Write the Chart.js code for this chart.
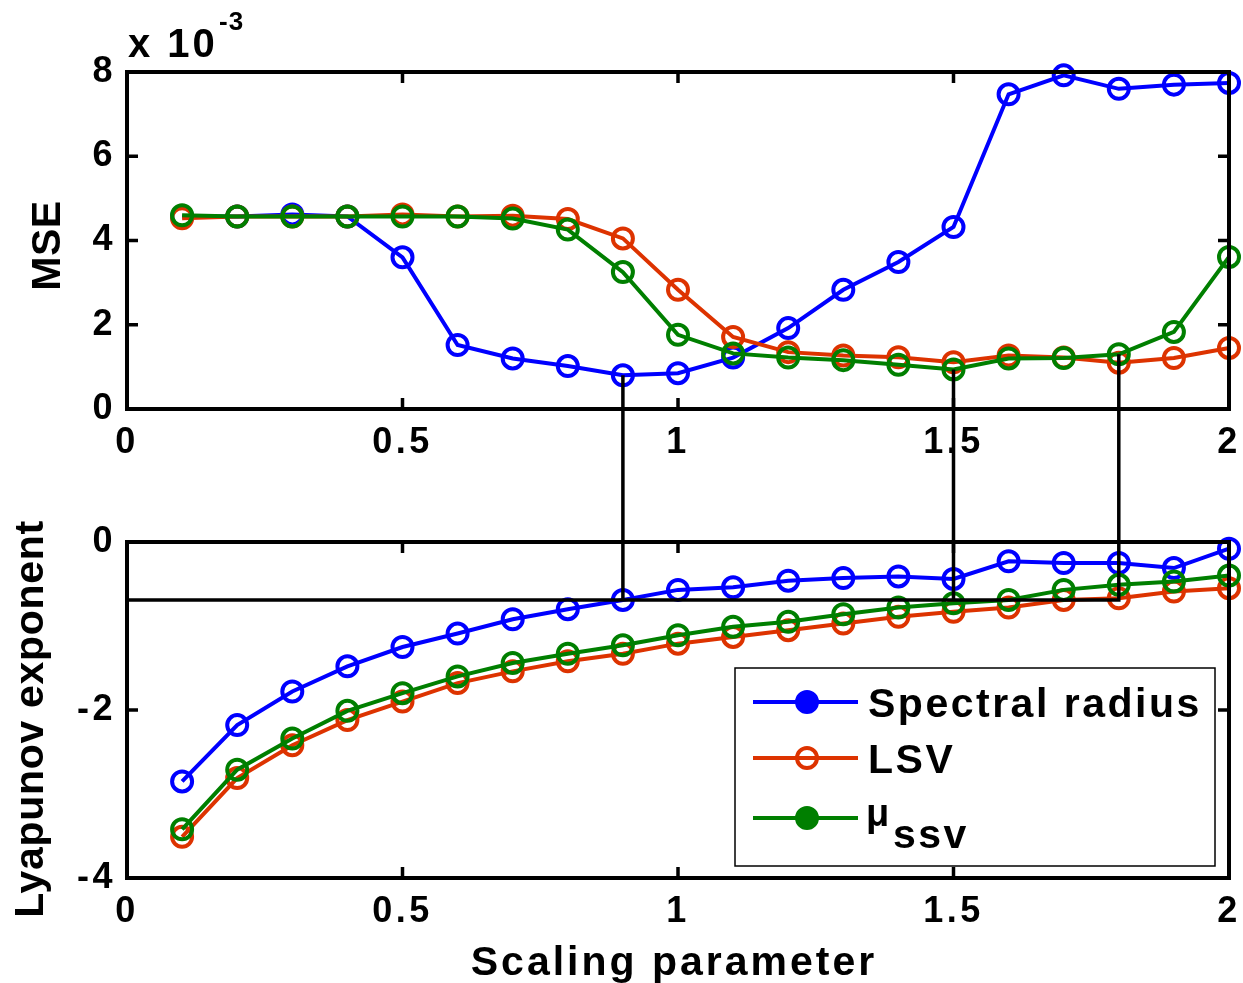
<!DOCTYPE html>
<html><head><meta charset="utf-8">
<script src="https://cdn.jsdelivr.net/npm/chart.js@4"></script>
<style>
html,body{margin:0;padding:0;background:#fff;}
#wrap{position:relative;width:1243px;height:983px;overflow:hidden;}
.box{position:absolute;left:0;width:1243px;}
</style></head><body>
<div id="wrap">
<div class="box" style="top:0;height:480px"><canvas id="c1" width="1243" height="480"></canvas></div>
<div class="box" style="top:480px;height:503px"><canvas id="c2" width="1243" height="503"></canvas></div>
</div>
<script>
// ---- data ----
const scaling = [0.1,0.2,0.3,0.4,0.5,0.6,0.7,0.8,0.9,1.0,1.1,1.2,1.3,1.4,1.5,1.6,1.7,1.8,1.9,2.0];
// MSE values in units of 1e-3
const mseSpectral = [4.57,4.57,4.62,4.57,3.60,1.52,1.20,1.02,0.80,0.85,1.22,1.92,2.83,3.49,4.32,7.47,7.92,7.60,7.70,7.74];
const mseLSV      = [4.53,4.57,4.57,4.57,4.62,4.57,4.59,4.51,4.05,2.83,1.71,1.35,1.27,1.23,1.11,1.27,1.22,1.10,1.21,1.45];
const mseMu       = [4.60,4.57,4.57,4.57,4.57,4.57,4.52,4.26,3.25,1.76,1.32,1.22,1.16,1.05,0.94,1.20,1.21,1.30,1.83,3.61];
const lyapSpectral = [-2.85,-2.18,-1.78,-1.48,-1.25,-1.09,-0.92,-0.80,-0.69,-0.57,-0.54,-0.46,-0.43,-0.41,-0.44,-0.23,-0.25,-0.25,-0.31,-0.08];
const lyapLSV      = [-3.51,-2.81,-2.42,-2.12,-1.90,-1.68,-1.54,-1.42,-1.33,-1.21,-1.13,-1.05,-0.97,-0.89,-0.83,-0.78,-0.69,-0.67,-0.59,-0.55];
const lyapMu       = [-3.42,-2.71,-2.34,-2.01,-1.80,-1.60,-1.44,-1.33,-1.23,-1.11,-1.01,-0.95,-0.86,-0.78,-0.73,-0.69,-0.57,-0.51,-0.47,-0.40];
const seriesNames = ['Spectral radius','LSV','\u03bc'];
const seriesSub = ['','','ssv'];
const seriesColors = ['#0000FF','#DD3300','#007F00'];
const xTicks = [0,0.5,1,1.5,2];
const xTickLabels = ['0','0.5','1','1.5','2'];
const mseTicks = [0,2,4,6,8];
const mseTickLabels = ['0','2','4','6','8'];
const lyapTicks = [-4,-2,0];
const lyapTickLabels = ['-4','-2','0'];
const xTitle = 'Scaling parameter';
const mseTitle = 'MSE';
const lyapTitle = 'Lyapunov exponent';
const connectorX = [0.9,1.5,1.8];
const connectorStartMSE = [mseSpectral[8], mseMu[14], mseMu[17]];
const connectorLevel = lyapSpectral[8];

const FONT = "'Liberation Sans', Arial, Helvetica, sans-serif";
Chart.defaults.font.family = FONT;
Chart.defaults.font.weight = 'bold';
Chart.defaults.color = '#000';

function ds(label, data, color, order){
  return {label, data: scaling.map((x,i)=>({x, y:data[i]})), borderColor: color, backgroundColor: color,
    borderWidth: 4, pointRadius: 10, pointHoverRadius: 10, pointBorderWidth: 4,
    pointBackgroundColor: 'rgba(0,0,0,0)', pointBorderColor: color, tension: 0, clip: false, order};
}

function drawFrame(chart, xt, yt){
  const {ctx, chartArea:a, scales:{x,y}} = chart;
  ctx.save();
  ctx.letterSpacing = '0px';
  ctx.strokeStyle = '#000';
  ctx.lineWidth = 3.5; ctx.lineCap = 'butt';
  const L = 11;
  ctx.beginPath();
  xt.forEach(v=>{const p=x.getPixelForValue(v); ctx.moveTo(p,a.bottom); ctx.lineTo(p,a.bottom-L); ctx.moveTo(p,a.top); ctx.lineTo(p,a.top+L);});
  yt.forEach(v=>{const p=y.getPixelForValue(v); ctx.moveTo(a.left,p); ctx.lineTo(a.left+L,p); ctx.moveTo(a.right,p); ctx.lineTo(a.right-L,p);});
  ctx.stroke();
  ctx.lineWidth = 4; ctx.lineJoin = 'miter';
  ctx.strokeRect(a.left, a.top, a.right-a.left, a.bottom-a.top);
  ctx.restore();
}

function drawText(ctx, text, x, y, size, spacing, rotate, align){
  ctx.save();
  ctx.fillStyle = '#000';
  ctx.font = 'bold ' + size + 'px ' + FONT;
  ctx.letterSpacing = spacing + 'px';
  ctx.textAlign = align || 'left';
  ctx.textBaseline = 'alphabetic';
  ctx.translate(x, y);
  if (rotate) ctx.rotate(-Math.PI/2);
  ctx.fillText(text, 0, 0);
  ctx.restore();
}
function drawTitleY(ctx, text, baseX, centerY, spacing){
  drawText(ctx, text, baseX, centerY, 41, spacing, true, 'center');
}

const spacingPlugin = { id:'spacing', beforeDraw(chart){ chart.ctx.letterSpacing = '3.5px'; } };

function xScale(h){
  return { type:'linear', min:0, max:2, position:'bottom',
    afterBuildTicks(s){ s.ticks = xTicks.map(v=>({value:v})); },
    afterFit(s){ s.height = h; s.paddingLeft = 0; s.paddingRight = 0; },
    grid:{display:false}, border:{display:false},
    ticks:{ font:{size:36, weight:'bold'}, padding:4, maxRotation:0, autoSkip:false, callback:(v,i)=>xTickLabels[i] } };
}
function yScale(min, max, ticks, labels){
  return { type:'linear', min, max,
    afterBuildTicks(s){ s.ticks = ticks.map(v=>({value:v})); },
    afterFit(s){ s.width = 127; s.paddingTop = 0; s.paddingBottom = 0; },
    grid:{display:false}, border:{display:false},
    ticks:{ font:{size:36, weight:'bold'}, padding:3, callback:(v,i)=>labels[i] } };
}

// ---- top chart ----
new Chart(document.getElementById('c1'), {
  type:'line',
  data:{ datasets:[ ds(seriesNames[0], mseSpectral, seriesColors[0], 3), ds(seriesNames[1], mseLSV, seriesColors[1], 2), ds('\u03bcssv', mseMu, seriesColors[2], 1) ] },
  options:{
    responsive:false, animation:false, events:[],
    layout:{ padding:{ top:72, right:13, left:0, bottom:0 } },
    plugins:{ legend:{display:false}, tooltip:{enabled:false} },
    scales:{ x: xScale(71), y: yScale(0, 8, mseTicks, mseTickLabels) }
  },
  plugins:[ spacingPlugin, { id:'topDeco', afterDraw(chart){
    drawFrame(chart, xTicks, mseTicks);
    const {ctx, chartArea:a, scales:{x,y}} = chart;
    ctx.save();
    ctx.letterSpacing = '0px';
    ctx.strokeStyle = '#000'; ctx.lineWidth = 3.5;
    ctx.beginPath();
    connectorX.forEach((cx,i)=>{ const px = x.getPixelForValue(cx); ctx.moveTo(px, y.getPixelForValue(connectorStartMSE[i])); ctx.lineTo(px, chart.height+2); });
    ctx.stroke();
    ctx.restore();
    drawTitleY(ctx, mseTitle, 60, (a.top+a.bottom)/2 + 5, 0.5);
    drawText(ctx, 'x 10', 128, 57, 40, 3, false, 'left');
    drawText(ctx, '-3', 219, 30, 26, 1, false, 'left');
  } } ]
});

// ---- bottom chart ----
new Chart(document.getElementById('c2'), {
  type:'line',
  data:{ datasets:[ ds(seriesNames[0], lyapSpectral, seriesColors[0], 3), ds(seriesNames[1], lyapLSV, seriesColors[1], 2), ds('\u03bcssv', lyapMu, seriesColors[2], 1) ] },
  options:{
    responsive:false, animation:false, events:[],
    layout:{ padding:{ top:62, right:13, left:0, bottom:0 } },
    plugins:{ legend:{display:false}, tooltip:{enabled:false} },
    scales:{ x: xScale(105), y: yScale(-4, 0, lyapTicks, lyapTickLabels) }
  },
  plugins:[ spacingPlugin, { id:'bottomDeco', afterDraw(chart){
    drawFrame(chart, xTicks, lyapTicks);
    const {ctx, chartArea:a, scales:{x,y}} = chart;
    ctx.save();
    ctx.letterSpacing = '0px';
    ctx.strokeStyle = '#000'; ctx.lineWidth = 3.5;
    const py = y.getPixelForValue(connectorLevel);
    ctx.beginPath();
    connectorX.forEach(cx=>{ const px = x.getPixelForValue(cx); ctx.moveTo(px, -2); ctx.lineTo(px, py); });
    ctx.moveTo(a.left, py); ctx.lineTo(x.getPixelForValue(connectorX[connectorX.length-1]) + 1.75, py);
    ctx.stroke();
    // legend
    const lx = 735, ly = 188, lw = 480, lh = 198;
    ctx.fillStyle = '#fff'; ctx.fillRect(lx, ly, lw, lh);
    ctx.lineWidth = 1.5; ctx.strokeRect(lx, ly, lw, lh);
    const rows = [222, 278, 338];
    rows.forEach((ry, i)=>{
      const c = seriesColors[i];
      ctx.strokeStyle = c; ctx.lineWidth = 4;
      ctx.beginPath(); ctx.moveTo(753, ry); ctx.lineTo(858, ry); ctx.stroke();
      ctx.lineWidth = 4;
      ctx.beginPath(); ctx.arc(807, ry, 10, 0, Math.PI*2);
      if (i !== 1) { ctx.fillStyle = c; ctx.fill(); }
      ctx.stroke();
      if (i < 2) {
        drawText(ctx, seriesNames[i], 868, ry + 15, 41, 2.5, false, 'left');
      } else {
        drawText(ctx, seriesNames[i], 866, ry + 8, 38, 0, false, 'left');
        drawText(ctx, seriesSub[i], 893, ry + 30, 41, 2.5, false, 'left');
      }
    });
    ctx.restore();
    drawText(ctx, xTitle, (a.left+a.right)/2 - 4, 495, 41, 3, false, 'center');
    drawTitleY(ctx, lyapTitle, 43, (a.top+a.bottom)/2 + 9, 0.7);
  } } ]
});
</script>
</body></html>
